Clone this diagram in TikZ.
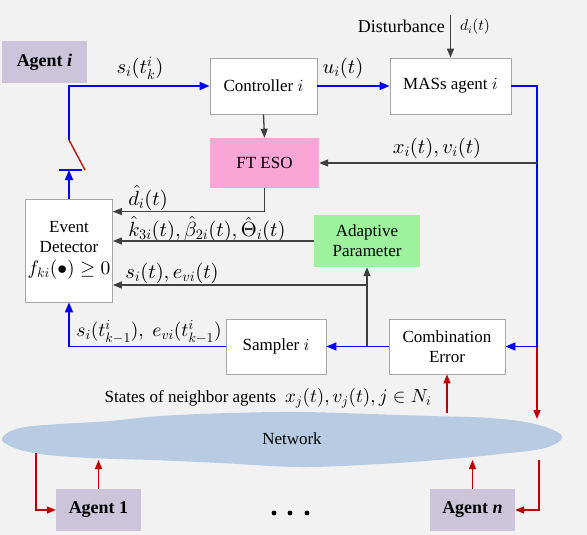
\documentclass[tikz,border=0pt]{standalone}
\usepackage{fontspec}
\setmainfont{Liberation Serif}
\DeclareFontShape{OML}{cmm}{m}{it}{<->cmmi10}{}
\DeclareFontShape{OMS}{cmsy}{m}{n}{<->cmsy10}{}
\DeclareFontShape{OMX}{cmex}{m}{n}{<->cmex10}{}
\DeclareFontShape{OT1}{cmr}{m}{n}{<->cmr10}{}
\usetikzlibrary{arrows.meta,positioning,calc}
\definecolor{BgGray}{HTML}{F2F2F2}
\definecolor{BoxLine}{HTML}{A6A6A6}
\definecolor{AgentFill}{HTML}{CCC4DA}
\definecolor{EsoPink}{HTML}{F9A6D6}
\definecolor{AdaptGreen}{HTML}{9EF29E}
\definecolor{NetBlue}{HTML}{B7CCE2}
\definecolor{LinkRed}{HTML}{C00000}
\definecolor{LinkGray}{HTML}{404040}
\definecolor{LinkBlue}{HTML}{0000FF}

\begin{document}
\begin{tikzpicture}[x=1pt,y=-1pt,
  box/.style={draw=BoxLine,fill=white,line width=0.8pt,align=center,inner sep=2pt,font=\fontsize{17}{20}\selectfont},
  softbox/.style={fill=#1,align=center,inner sep=2pt,font=\fontsize{17}{20}\selectfont},
  agent/.style={fill=AgentFill,minimum width=85pt,minimum height=42pt,inner sep=0pt,font=\fontsize{18}{21}\selectfont\bfseries},
  lbl/.style={inner sep=0pt,font=\fontsize{20.5}{23}\selectfont},
  txt/.style={inner sep=0pt,font=\fontsize{17}{20}\selectfont},
  bluearr/.style={draw=LinkBlue,line width=1.6pt,-{Triangle[length=10pt,width=8pt]}},
  blueline/.style={draw=LinkBlue,line width=1.6pt},
  grayarr/.style={draw=LinkGray,line width=1.3pt,-{Triangle[length=9pt,width=7pt]}},
  redarr/.style={draw=LinkRed,line width=1.3pt,-{Triangle[length=9pt,width=7pt]}}
]
  \path[use as bounding box] (0,0) rectangle (587,535);
  \fill[BgGray] (0,0) rectangle (587,535);

  \fill[NetBlue] plot[smooth cycle,tension=0.6] coordinates {
    (2,438) (20,428) (60,424) (110,421) (160,416) (230,413) (300,412) (370,414)
    (430,416) (490,418) (535,424) (562,436) (545,448) (500,454) (450,459)
    (380,464) (300,467) (220,463) (150,460) (90,458) (40,454) (12,447)};
  \node[txt] (net) at (292,439) {Network};

  \node[agent] (agenti) at (44.5,62) {Agent {\itshape i}};
  \node[box,minimum width=107pt,minimum height=56pt] (ctrl) at (263.5,86) {Controller $i$};
  \node[box,minimum width=121pt,minimum height=56pt] (mas) at (450.5,86) {MASs agent $i$};
  \node[softbox=EsoPink,minimum width=109pt,minimum height=50pt] (eso) at (264.5,163) {FT ESO};
  \node[softbox=AdaptGreen,minimum width=106pt,minimum height=52pt] (adapt) at (367,241) {Adaptive\\Parameter};
  \node[box,minimum width=84pt,minimum height=103pt] (ed) at (69,250.5) {Event\\Detector\\[2pt]\fontsize{19.5}{22}\selectfont$f_{ki}(\bullet)\geq 0$};
  \node[box,minimum width=100pt,minimum height=55pt] (sampler) at (276,346.5) {Sampler $i$};
  \node[box,minimum width=116pt,minimum height=55pt] (comb) at (447,346.5) {Combination\\Error};
  \node[agent] (agent1) at (98.5,510) {Agent 1};
  \node[agent] (agentn) at (472.5,510) {Agent {\itshape n}};
  \foreach \dx in {274,290,307}
    \fill (\dx,513) circle (2.4);

  \node[txt,anchor=east,font=\fontsize{18}{21}\selectfont] (dist) at (445,26) {Disturbance};
  \node[lbl,font=\fontsize{15.5}{18}\selectfont] (distlbl) at (475,27) {$d_i(t)$};
  \node[lbl] (lblsk) at (140,68) {$s_i(t_k^i)$};
  \node[lbl] (lblu) at (343,68) {$u_i(t)$};
  \node[lbl] (lblxv) at (437,148) {$x_i(t),v_i(t)$};
  \node[lbl] (lbld) at (148,198) {$\hat{d}_i(t)$};
  \node[lbl] (lblk) at (207,229) {$\hat{k}_{3i}(t),\hat{\beta}_{2i}(t),\hat{\Theta}_i(t)$};
  \node[lbl] (lblse) at (172,273) {$s_i(t),e_{vi}(t)$};
  \node[lbl,font=\fontsize{19.5}{22}\selectfont] (lblsk1) at (149,332) {$s_i(t_{k-1}^i),\; e_{vi}(t_{k-1}^i)$};
  \node[txt] (lblnb) at (268,398) {States of neighbor agents\; {\fontsize{19}{21}\selectfont$x_j(t),v_j(t),j\in N_i$}};

  \coordinate (distTop) at (450.5,15);
  \coordinate (swA) at (69,140);
  \coordinate (swB) at (85,170);
  \coordinate (barL) at (59,170);
  \coordinate (barR) at (82,170);
  \coordinate (tapR) at (537,163);
  \coordinate (tapC) at (537,346.5);
  \coordinate (tapS) at (367,346.5);
  \coordinate (tapA) at (367,285);
  \coordinate (netR) at (537,419);
  \coordinate (netC) at (447,413);
  \coordinate (netL) at (36,453);
  \coordinate (net1) at (98.5,460);
  \coordinate (netn) at (472.5,460);
  \coordinate (netRR) at (539,460);

  \draw[grayarr] (distTop) -- (mas.north);
  \draw[bluearr] (ctrl.east) -- (mas.west);
  \draw[bluearr] (swA) |- (ctrl.west);
  \draw[draw=LinkRed,line width=1.3pt] (swA) -- (swB);
  \draw[blueline] (barL) -- (barR);
  \draw[bluearr] (ed.north) -- (ed.north |- barL);
  \draw[grayarr] (ctrl.south) -- (eso.north);
  \draw[bluearr] (mas.east) -| (tapC) -- (comb.east);
  \draw[grayarr] (tapR) -- (eso.east);
  \draw[grayarr] (eso.south) |- ([yshift=-13pt]ed.north east);
  \draw[grayarr] (adapt.west) -- (adapt.west -| ed.east);
  \draw[grayarr] (tapS) -- (adapt.south);
  \draw[grayarr] (tapA) -- (tapA -| ed.east);
  \draw[bluearr] (comb.west) -- (sampler.east);
  \draw[bluearr] (sampler.west) -| (ed.south);
  \draw[redarr] (tapC) -- (netR);
  \draw[redarr] (netC) -- (comb.south);
  \draw[redarr] (netL) |- (agent1.west);
  \draw[redarr] (agent1.north) -- (net1);
  \draw[redarr] (agentn.north) -- (netn);
  \draw[redarr] (netRR) |- (agentn.east);
\end{tikzpicture}
\end{document}
